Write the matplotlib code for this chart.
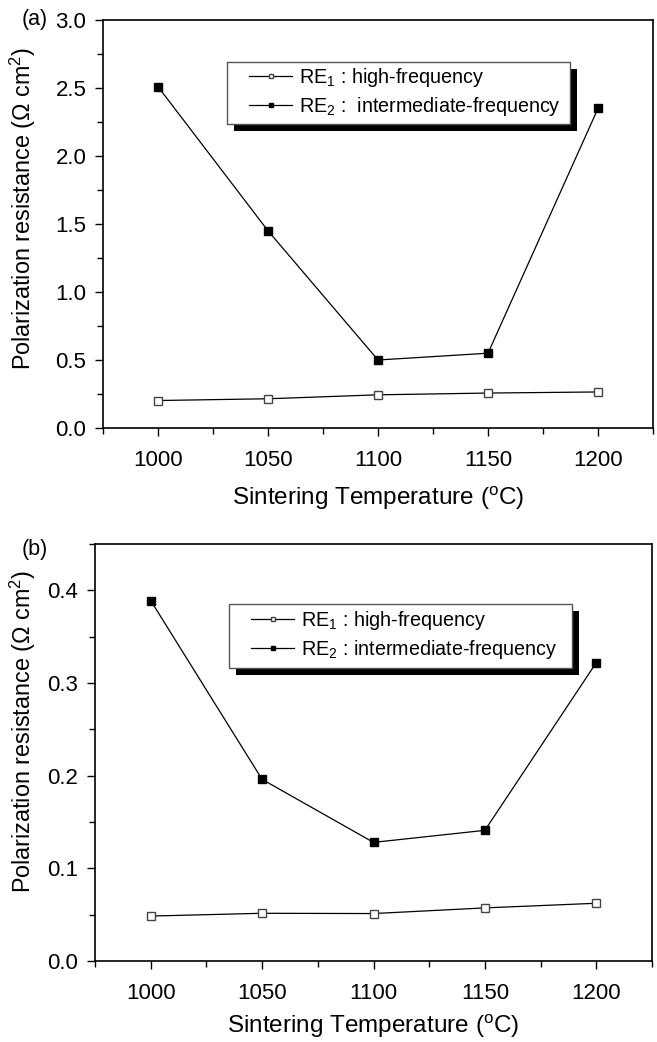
import matplotlib.pyplot as plt
from matplotlib.ticker import MultipleLocator
from matplotlib.patches import Rectangle

plt.rcParams['font.family'] = ['Liberation Sans', 'DejaVu Sans']
plt.rcParams['mathtext.fontset'] = 'custom'
plt.rcParams['mathtext.rm'] = 'Liberation Sans'
plt.rcParams['mathtext.it'] = 'Liberation Sans'

# sintering temperatures (degC)
temps = [1000, 1050, 1100, 1150, 1200]

# panel (a) polarization resistances
re1_a = [0.202, 0.215, 0.244, 0.257, 0.265]
re2_a = [2.51, 1.45, 0.50, 0.55, 2.35]

# panel (b) polarization resistances
re1_b = [0.0485, 0.0515, 0.0512, 0.0573, 0.0623]
re2_b = [0.389, 0.196, 0.128, 0.141, 0.322]

labels_a = [r'RE$_1$ : high-frequency', r'RE$_2$ :  intermediate-frequency']
labels_b = [r'RE$_1$ : high-frequency', r'RE$_2$ : intermediate-frequency']

W, H = 657, 1042
fig = plt.figure(figsize=(W / 100, H / 100), dpi=100)

ax_a = fig.add_axes([103 / W, 1 - 428 / H, 550 / W, 408 / H])
ax_b = fig.add_axes([95 / W, 1 - 961 / H, 557 / W, 417 / H])


def to_axes(ax, x, y):
    # pixel position measured from the top-left corner -> axes fraction
    return ax.transAxes.inverted().transform((x, H - y))


def draw_panel(ax, re1, re2, labels, ylim, ymaj, ymin, box, tag_pos, tag,
               ylab_y, xlab_pad):
    ax.plot(temps, re1, '-', color='black', lw=0.9, marker='s', ms=5.5,
            mfc='white', mec='#444444', mew=1.0, label=labels[0])
    ax.plot(temps, re2, '-', color='black', lw=0.9, marker='s', ms=6,
            mfc='black', mec='black', label=labels[1])
    ax.set_xlim(975, 1225)
    ax.set_ylim(*ylim)
    ax.xaxis.set_major_locator(MultipleLocator(50))
    ax.xaxis.set_minor_locator(MultipleLocator(25))
    ax.yaxis.set_major_locator(MultipleLocator(ymaj))
    ax.yaxis.set_minor_locator(MultipleLocator(ymin))
    ax.tick_params(which='both', direction='out', top=False, right=False,
                   labelsize=16, width=1.0)
    ax.tick_params(axis='x', which='major', length=6, pad=10)
    ax.tick_params(axis='y', which='major', length=6, pad=6)
    ax.tick_params(which='minor', length=4)
    for s in ax.spines.values():
        s.set_linewidth(1.2)
    ax.set_xlabel(r'Sintering Temperature ($^\mathregular{o}$C)', fontsize=17.5,
                  labelpad=xlab_pad)
    ax.set_ylabel(r'Polarization resistance ($\Omega$ cm$^\mathregular{2}$)', fontsize=16.8)
    lx_, _ = to_axes(ax, 38, 0)
    ax.yaxis.set_label_coords(lx_, ylab_y)
    tx, ty = to_axes(ax, *tag_pos)
    ax.text(tx, ty, tag, transform=ax.transAxes, fontsize=15.5,
            ha='left', va='center')

    # legend box with a solid black drop shadow
    x0, y0, x1, y1 = box
    bx0, by0 = to_axes(ax, x0, y1)
    bx1, by1 = to_axes(ax, x1, y0)
    sx0, sy0 = to_axes(ax, x0 + 7, y1 + 7)
    ax.add_patch(Rectangle((sx0, sy0), bx1 - bx0, by1 - by0, transform=ax.transAxes,
                           facecolor='black', edgecolor='none', zorder=4.8, clip_on=False))
    ax.add_patch(Rectangle((bx0, by0), bx1 - bx0, by1 - by0, transform=ax.transAxes,
                           facecolor='white', edgecolor='#555555', lw=1.0, zorder=4.9,
                           clip_on=False))
    lx, ly = to_axes(ax, x0 + 22, (y0 + y1) / 2 - 1)
    leg = ax.legend(loc='center left', bbox_to_anchor=(lx, ly), borderaxespad=0,
                    borderpad=0, fontsize=14.2, frameon=False, handlelength=2.2,
                    handletextpad=0.35, labelspacing=0.3, markerscale=0.6)
    leg.set_zorder(6)
    return leg


draw_panel(ax_a, re1_a, re2_a, labels_a, (0, 3.0), 0.5, 0.25,
           (227, 62, 570, 124), (22, 20), '(a)', 0.538, 10)
draw_panel(ax_b, re1_b, re2_b, labels_b, (0, 0.45), 0.1, 0.05,
           (229, 604, 572, 668), (22, 550), '(b)', 0.55, 6)

fig.savefig('out.png', dpi=100)
